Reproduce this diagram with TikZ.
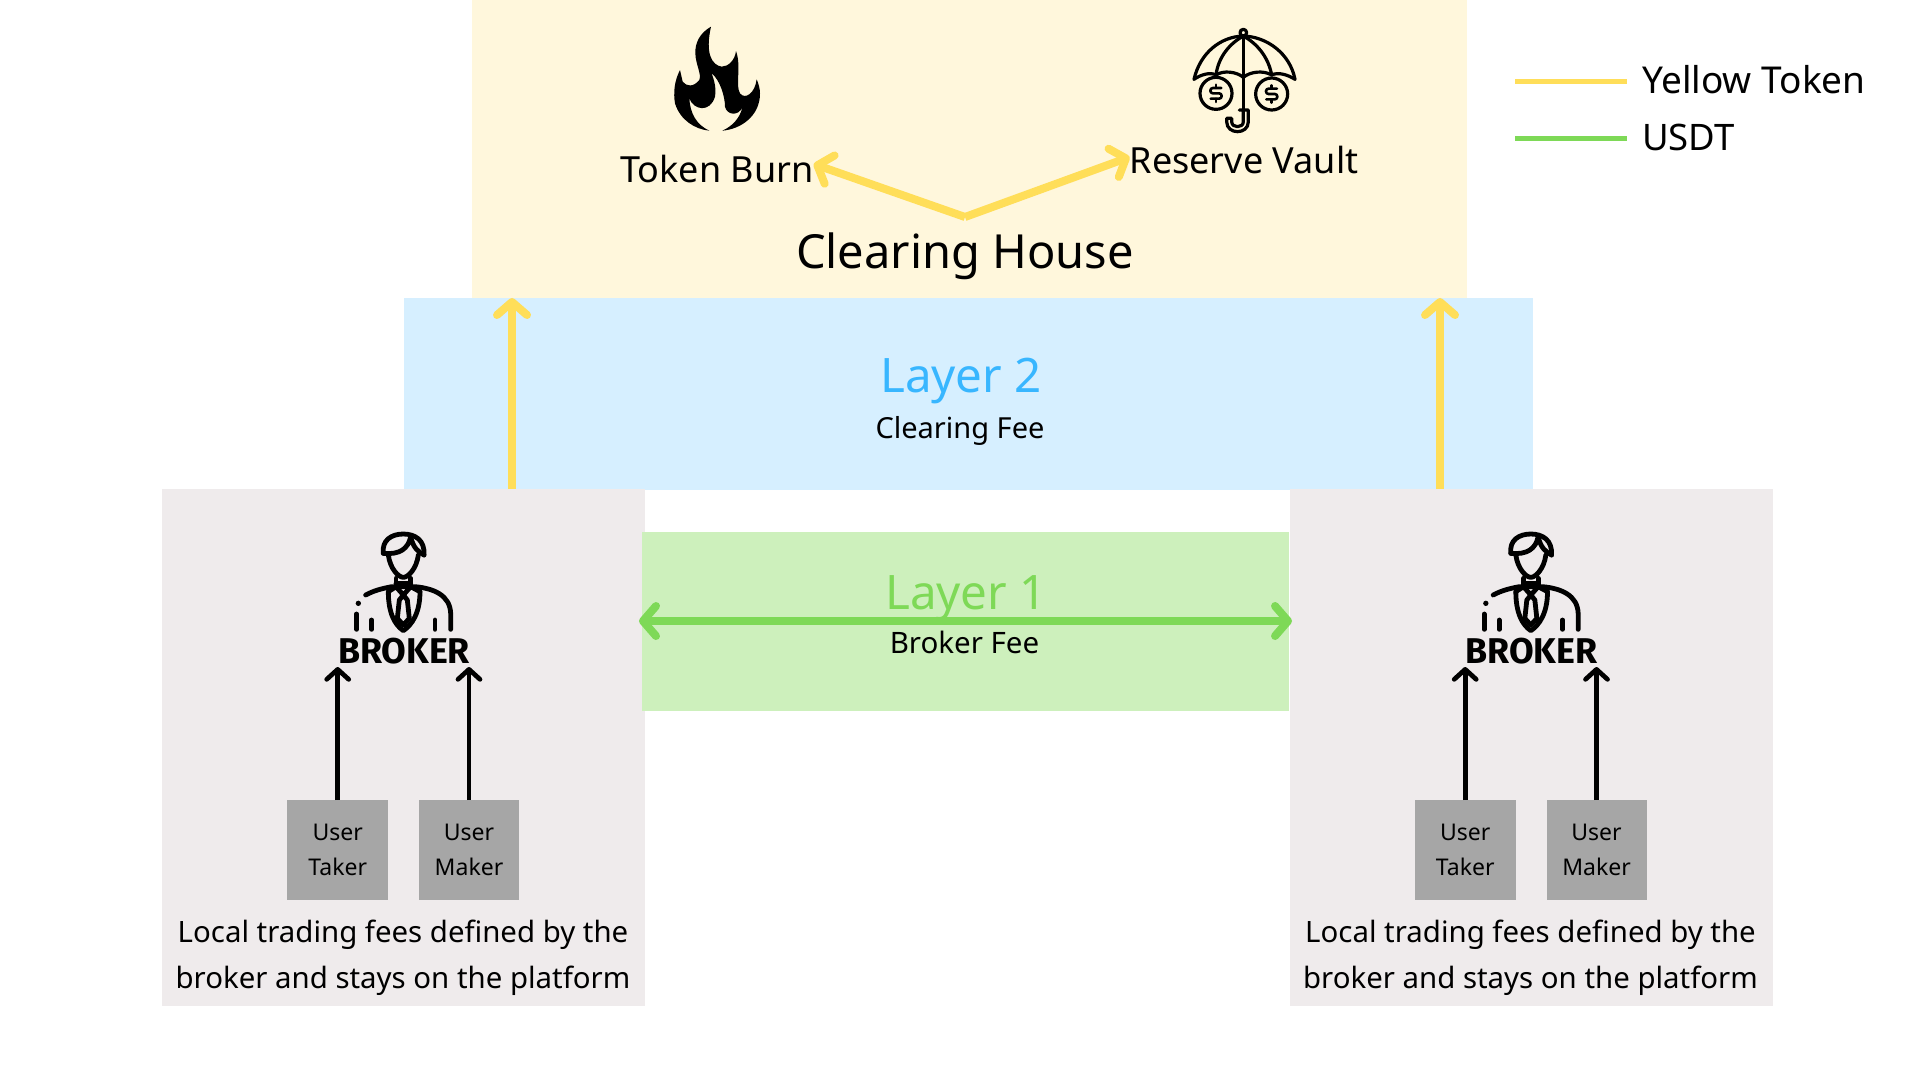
\documentclass[tikz,border=0pt]{standalone}
\usepackage{fontspec}
\setmainfont{Noto Sans}
\newfontfamily\brokerfont{Fira Sans}
\usetikzlibrary{arrows.meta}
\definecolor{tokyellow}{HTML}{FFDE59}
\definecolor{usdtgreen}{HTML}{7ED957}
\definecolor{l2blue}{HTML}{38B6FF}
\definecolor{chbg}{HTML}{FFF7DC}
\definecolor{l2bg}{HTML}{D6EFFF}
\definecolor{l1bg}{HTML}{CDF0BC}
\definecolor{brbg}{HTML}{EFEBEC}
\definecolor{userbg}{HTML}{A6A6A6}
\tikzset{
 panel/.style={anchor=north west,inner sep=0pt,outer sep=0pt,draw=none},
 lbl/.style={anchor=base,inner sep=0pt,outer sep=0pt,text=black},
 yarrow/.style={draw=tokyellow,line width=8pt,-{Straight Barb[length=13pt,width=30pt,round]}},
 garrow/.style={draw=usdtgreen,line width=8pt,{Straight Barb[length=13pt,width=30pt,round]}-{Straight Barb[length=13pt,width=30pt,round]}},
 barrow/.style={draw=black,line width=4.7pt,-{Straight Barb[length=10pt,width=22pt,round]}},
 icon/.style={line width=4.8pt,line cap=round,line join=round,draw=black,fill=none},
 umb/.style={line width=3.2pt,line cap=round,line join=round,draw=black,fill=none},
}
\newcommand{\BrokerPanel}[2]{% #1 prefix, #2 x offset
 \node[panel,fill=brbg,minimum width=483pt,minimum height=517pt] (#1box) at (162+#2,489) {};
 \begin{scope}[shift={(320+#2,520)},scale=1/3,icon]
  \draw (205,105) .. controls (210,145) and (235,172) .. (250,172) .. controls (265,172) and (290,145) .. (295,105);
  \draw (190,100) .. controls (185,60) and (215,42) .. (250,42) .. controls (285,42) and (315,60) .. (312,105);
  \draw (190,100) .. controls (240,105) and (265,85) .. (272,50) .. controls (280,85) and (295,95) .. (312,105);
  \draw (228,175) -- (228,200) (272,175) -- (272,200) (228,190) -- (272,190);
  \draw (137,225) .. controls (165,210) and (190,205) .. (215,200) -- (285,200) .. controls (340,205) and (390,225) .. (392,280) -- (392,328);
  \draw (205,215) .. controls (205,280) and (225,315) .. (250,332) .. controls (275,315) and (300,280) .. (300,215);
  \draw (205,215) -- (228,200) -- (250,225) -- (272,200) -- (300,215);
  \draw (238,240) -- (250,225) -- (262,240) -- (268,295) -- (250,315) -- (232,295) -- cycle;
  \fill (115,250) circle (8);
  \draw (110,282) -- (110,328) (155,300) -- (155,328) (345,300) -- (345,328);
 \end{scope}
 \node[lbl] (#1name) at (404+#2,663) {\resizebox{132pt}{!}{\fontsize{35pt}{35pt}\brokerfont\bfseries BROKER}};
 \node[panel,fill=userbg,minimum width=101pt,minimum height=100pt] (#1taker) at (287+#2,800) {};
 \node[panel,fill=userbg,minimum width=100pt,minimum height=100pt] (#1maker) at (419+#2,800) {};
 \node[lbl,font=\fontsize{23pt}{23pt}\selectfont] (#1ta) at (337.7+#2,840) {User};
 \node[lbl,font=\fontsize{23pt}{23pt}\selectfont] (#1tb) at (337.7+#2,875) {Taker};
 \node[lbl,font=\fontsize{23pt}{23pt}\selectfont] (#1ma) at (469+#2,840) {User};
 \node[lbl,font=\fontsize{23pt}{23pt}\selectfont] (#1mb) at (469+#2,875) {Maker};
 \node[lbl,font=\fontsize{29.4pt}{29pt}\selectfont] (#1la) at (403+#2,942) {Local trading fees defined by the};
 \node[lbl,font=\fontsize{29.4pt}{29pt}\selectfont] (#1lb) at (403+#2,988) {broker and stays on the platform};
 \coordinate (#1tt) at (337.7+#2,667);
 \coordinate (#1mt) at (469+#2,667);
 \draw[barrow] (#1tt |- #1taker.north) -- (#1tt);
 \draw[barrow] (#1mt |- #1maker.north) -- (#1mt);
}
\begin{document}
\begin{tikzpicture}[x=1pt,y=-1pt]
\useasboundingbox (0,0) rectangle (1920,1080);
\fill[white] (0,0) rectangle (1920,1080);
\node[panel,fill=chbg,minimum width=995pt,minimum height=298pt] (ch) at (472,0) {};
\node[panel,fill=l2bg,minimum width=1129pt,minimum height=192pt] (l2) at (404,298) {};
\BrokerPanel{L}{0}
\BrokerPanel{R}{1127.5}
\node[panel,fill=l1bg,minimum width=647pt,minimum height=179pt] (l1) at (642,532) {};
% flame
\begin{scope}[shift={(660,10)},scale=1/3]
\fill[black] (153,50) .. controls (118,70) and (105,100) .. (106,130)
 .. controls (107,165) and (125,190) .. (118,210)
 .. controls (100,232) and (80,230) .. (68,215)
 -- (60,180) .. controls (42,215) and (40,250) .. (45,280)
 .. controls (60,330) and (105,358) .. (148,362)
 .. controls (110,345) and (90,310) .. (88,265)
 .. controls (100,300) and (150,310) .. (165,260)
 .. controls (170,230) and (160,205) .. (155,190)
 .. controls (180,210) and (195,260) .. (195,290)
 .. controls (200,315) and (235,320) .. (247,292)
 .. controls (240,325) and (215,350) .. (187,362)
 .. controls (240,358) and (300,320) .. (300,250)
 .. controls (300,235) and (295,220) .. (290,208)
 .. controls (285,250) and (255,270) .. (240,250)
 .. controls (225,225) and (245,170) .. (228,123)
 .. controls (225,150) and (205,170) .. (185,170)
 .. controls (155,165) and (135,130) .. (153,50) -- cycle;
\end{scope}
% umbrella
\begin{scope}[shift={(1180,20)},scale=1/3,umb]
\draw (42,178) .. controls (60,100) and (120,50) .. (190,48) .. controls (260,50) and (330,100) .. (345,178);
\draw (42,178) .. controls (60,165) and (90,155) .. (108,165) .. controls (130,150) and (170,155) .. (190,172) .. controls (210,155) and (250,150) .. (275,165) .. controls (295,155) and (325,165) .. (345,178);
\draw (108,165) .. controls (115,110) and (150,70) .. (190,48) .. controls (230,70) and (265,110) .. (275,165);
\draw (190,48) -- (190,270);
\draw (190,38) circle (10);
\draw (108,220) circle (48);
\draw (275,222) circle (48);
\draw (178,270) -- (205,270) -- (205,305) .. controls (205,345) and (140,345) .. (140,305) -- (140,295) -- (155,295) -- (155,305) .. controls (155,325) and (190,325) .. (190,305) -- (190,270);
\foreach \cx/\cy in {108/220,275/222}{
 \draw[line width=2.6pt,rounded corners=2.5pt] (\cx+16,\cy-16) -- (\cx-17,\cy-16) -- (\cx-17,\cy) -- (\cx+17,\cy) -- (\cx+17,\cy+16) -- (\cx-16,\cy+16);
 \draw[line width=2.6pt] (\cx,\cy-26) -- (\cx,\cy-16) (\cx,\cy+16) -- (\cx,\cy+26);
}
\end{scope}
% labels
\node[lbl,font=\fontsize{36pt}{36pt}\selectfont] (burn) at (717,182) {Token Burn};
\node[lbl,font=\fontsize{36pt}{36pt}\selectfont] (vault) at (1244,173) {Reserve Vault};
\node[lbl,font=\fontsize{47pt}{47pt}\selectfont] (chl) at (965,268) {Clearing House};
\node[lbl,font=\fontsize{47.5pt}{47pt}\selectfont,text=l2blue] (l2t) at (961,392) {Layer 2};
\node[lbl,font=\fontsize{29pt}{29pt}\selectfont] (l2s) at (960,438) {Clearing Fee};
\node[lbl,font=\fontsize{47.5pt}{47pt}\selectfont,text=usdtgreen] (l1t) at (966,609) {Layer 1};
\node[lbl,font=\fontsize{29.5pt}{29pt}\selectfont] (l1s) at (964.5,653) {Broker Fee};
% apex and arrows
\coordinate (apex) at (965,217);
\draw[yarrow] (apex) -- (burn.east |- 0,164);
\draw[yarrow] (apex) -- (vault.west |- 0,157);
\coordinate (ya) at (512,298);
\coordinate (yb) at (1440,298);
\draw[yarrow] (ya |- Lbox.north) -- (ya);
\draw[yarrow] (yb |- Rbox.north) -- (yb);
\draw[garrow] ([xshift=-3pt]l1.west |- 0,621) -- ([xshift=3pt]l1.east |- 0,621);
% legend
\coordinate (k1a) at (1515,81); \coordinate (k1b) at (1627,81);
\coordinate (k2a) at (1515,138); \coordinate (k2b) at (1627,138);
\draw[tokyellow,line width=5pt] (k1a) -- (k1b);
\draw[usdtgreen,line width=5pt] (k2a) -- (k2b);
\node[anchor=base west,inner sep=0pt,font=\fontsize{37pt}{37pt}\selectfont] (k1) at (1642,93) {Yellow Token};
\node[anchor=base west,inner sep=0pt,font=\fontsize{36.5pt}{37pt}\selectfont] (k2) at (1642,150) {USDT};
\end{tikzpicture}
\end{document}
